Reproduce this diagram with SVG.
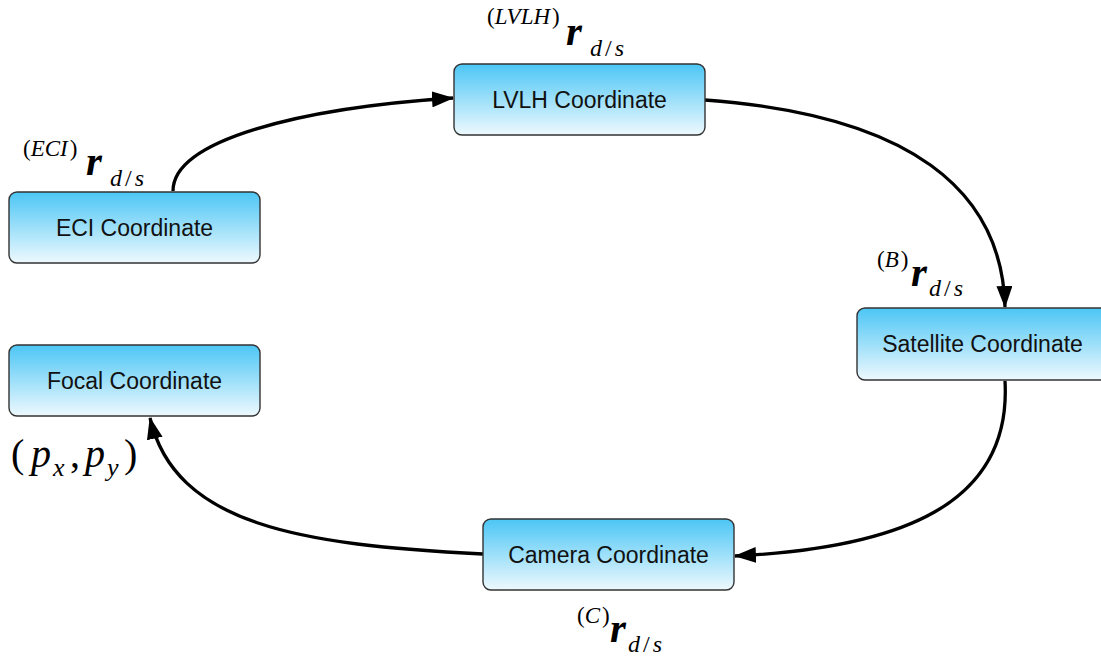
<svg xmlns="http://www.w3.org/2000/svg" width="1101" height="656" viewBox="0 0 1101 656">
<defs>
<linearGradient id="g" x1="0" y1="0" x2="0" y2="1">
<stop offset="0" stop-color="#4cc6f5"/>
<stop offset="0.55" stop-color="#a5e2fa"/>
<stop offset="1" stop-color="#eef9fe"/>
</linearGradient>
<marker id="ah" markerWidth="22" markerHeight="16" refX="21" refY="8" orient="auto" markerUnits="userSpaceOnUse" viewBox="0 0 22 16">
<path d="M0,0 L22,8 L0,16 Z" fill="#000"/>
</marker>
<style>
.box{fill:url(#g);stroke:#333;stroke-width:1.4}
.lbl{font-family:"Liberation Sans",Arial,sans-serif;font-size:23px;fill:#111;text-anchor:middle}
.con{fill:none;stroke:#000;stroke-width:3.3;marker-end:url(#ah)}
.m{font-family:"Liberation Serif","Times New Roman",serif;font-style:italic;fill:#000}
.up{font-style:normal}
.sup{font-size:23px}
.r{font-size:41px;font-weight:bold}
.sub{font-size:24px}
</style>
</defs>
<g id="connectors">
<path class="con" d="M173,191 C173,140 300,108 453,98"/>
<path class="con" d="M705,100 C910,115 1002,190 1005,307"/>
<path class="con" d="M1005,381 C1012,505 900,548 735,556"/>
<path class="con" d="M483,554 C300,545 175,525 150,418"/>
</g>
<g id="lvlh">
<rect class="box" x="454" y="64" width="251" height="71" rx="8"/>
<text class="lbl" x="579.5" y="108">LVLH Coordinate</text>
</g>
<g id="eci">
<rect class="box" x="9" y="192" width="251" height="71" rx="8"/>
<text class="lbl" x="134.5" y="236">ECI Coordinate</text>
</g>
<g id="satellite">
<rect class="box" x="857" y="308" width="251" height="72" rx="8"/>
<text class="lbl" x="982.5" y="352">Satellite Coordinate</text>
</g>
<g id="focal">
<rect class="box" x="9" y="345" width="251" height="71" rx="8"/>
<text class="lbl" x="134.5" y="389">Focal Coordinate</text>
</g>
<g id="camera">
<rect class="box" x="483" y="519" width="251" height="71" rx="8"/>
<text class="lbl" x="608.5" y="563">Camera Coordinate</text>
</g>
<g id="labels">
<text class="m sup" x="487" y="24"><tspan class="up">(</tspan>LVLH<tspan class="up" dx="2">)</tspan></text>
<text class="m r" x="566" y="45">r</text>
<text class="m sub" x="590" y="56">d<tspan class="up" dx="3">/</tspan><tspan dx="3">s</tspan></text>

<text class="m sup" x="23" y="156"><tspan class="up">(</tspan>ECI<tspan class="up" dx="2">)</tspan></text>
<text class="m r" x="86" y="175">r</text>
<text class="m sub" x="110" y="186">d<tspan class="up" dx="3">/</tspan><tspan dx="3">s</tspan></text>

<text class="m sup" x="877" y="267"><tspan class="up">(</tspan>B<tspan class="up" dx="2">)</tspan></text>
<text class="m r" x="911" y="286">r</text>
<text class="m sub" x="929" y="296">d<tspan class="up" dx="3">/</tspan><tspan dx="3">s</tspan></text>

<text class="m sup" x="577" y="623"><tspan class="up">(</tspan>C<tspan class="up" dx="2">)</tspan></text>
<text class="m r" x="610" y="642">r</text>
<text class="m sub" x="628" y="652">d<tspan class="up" dx="3">/</tspan><tspan dx="3">s</tspan></text>

<g font-family="Liberation Serif,'Times New Roman',serif" font-size="40" fill="#000">
<text x="11" y="467">(</text>
<text x="31" y="467" font-style="italic">p</text>
<text x="53" y="476" font-size="26" font-style="italic">x</text>
<text x="70" y="467">,</text>
<text x="85" y="467" font-style="italic">p</text>
<text x="107" y="476" font-size="26" font-style="italic">y</text>
<text x="124" y="467">)</text>
</g>
</g>
</svg>
